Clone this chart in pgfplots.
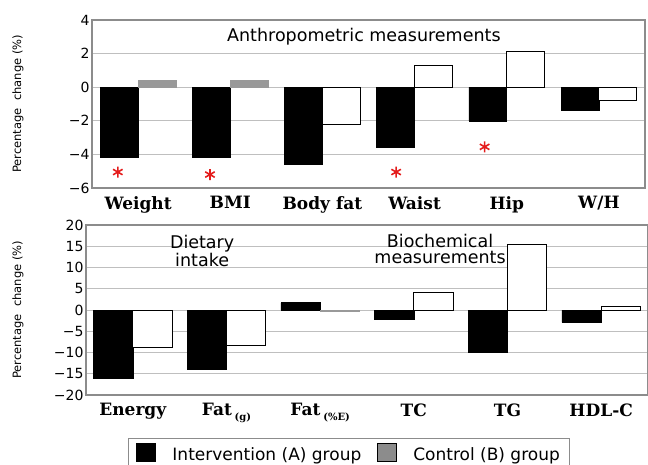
\documentclass[border=0pt]{standalone}
\usepackage{pgfplots}
\pgfplotsset{compat=1.18}
\usepackage{fontspec}
\setmainfont{DejaVu Sans}
\newfontfamily\catfont{DejaVu Serif}
\definecolor{framec}{gray}{0.55}
\definecolor{gridc}{gray}{0.75}
\definecolor{starred}{RGB}{228,28,28}
\definecolor{ctrlgray}{gray}{0.55}
\definecolor{thingray}{gray}{0.6}
\begin{document}
\begin{tikzpicture}
\path[use as bounding box] (0,0) rectangle (648pt,-464pt);
\pgfplotsset{
  myaxis/.style={
    scale only axis,
    xmin=-0.5, xmax=5.5,
    xtick={0,...,5},
    major tick length=0pt,
    ymajorgrids,
    grid style={gridc, line width=1pt},
    axis line style={framec, line width=1.2pt},
    xticklabel style={font=\catfont\bfseries\fontsize{17}{17}\selectfont, anchor=north, yshift=-5pt},
    yticklabel style={font=\fontsize{14}{14}\selectfont, xshift=1pt},
    clip=false,
  },
  bA/.style={ybar, bar width=#1, fill=black, draw=black, line width=0.6pt},
  bB/.style={ybar, bar width=#1, fill=white, draw=black, line width=1pt},
  bG/.style={ybar, bar width=#1, fill=thingray, draw=thingray, line width=0.6pt},
}
% ---------------- top panel ----------------
\begin{axis}[myaxis,
  at={(92pt,-188pt)}, anchor=south west, width=553pt, height=168pt,
  ymin=-6, ymax=4,
  ytick={-6,-4,-2,0,2,4}, yticklabels={−6,−4,−2,0,2,4},
  xticklabels={Weight,BMI,Body fat,Waist,Hip,W/H},
  ylabel={Percentage\ \ change (\%)},
  every axis y label/.style={at={(rel axis cs:0,0.5)}, xshift=-65pt, rotate=90, anchor=south, font=\fontsize{11.5}{11.5}\selectfont},
]
\addplot[bA=0.41, bar shift=-0.205] coordinates {(0,-4.2) (1,-4.2) (2,-4.6) (3,-3.6) (4,-2.0) (5,-1.4)};
\addplot[bG=0.41, bar shift=0.205] coordinates {(0,0.4) (1,0.4)};
\addplot[bB=0.41, bar shift=0.205] coordinates {(2,-2.2) (3,1.3) (4,2.1) (5,-0.8)};
\addplot[only marks, mark=asterisk, mark size=5.5pt, line width=1.6pt, starred] coordinates {(-0.22,-5.05) (0.78,-5.2) (2.8,-5.05) (3.76,-3.55)};
\node[font=\fontsize{17.5}{17.5}\selectfont] at (axis cs:2.45,3.02) {Anthropometric measurements};
\end{axis}
% ---------------- bottom panel ----------------
\begin{axis}[myaxis,
  at={(86pt,-395pt)}, anchor=south west, width=562pt, height=170pt,
  ymin=-20, ymax=20,
  ytick={-20,-15,...,20}, yticklabels={−20,−15,−10,−5,0,5,10,15,20},
  xticklabels={Energy,{Fat\,{\fontsize{10}{10}\selectfont\raisebox{-5pt}{(g)}}},{Fat\,{\fontsize{10}{10}\selectfont\raisebox{-5pt}{(\%E)}}},TC,TG,HDL-C},
  ylabel={Percentage\ \ change (\%)},
  every axis y label/.style={at={(rel axis cs:0,0.5)}, xshift=-59pt, rotate=90, anchor=south, font=\fontsize{11.5}{11.5}\selectfont},
  legend style={at={(rel axis cs:0.0747,-0.25)}, anchor=north west, draw=framec, line width=1pt,
    font=\fontsize{17}{17}\selectfont, inner xsep=8pt, inner ysep=5pt,
    /tikz/every odd column/.append style={column sep=14pt},
    /tikz/every even column/.append style={column sep=14pt}},
  legend columns=2,
  legend image code/.code={\fill[#1] (0pt,-7pt) rectangle (19pt,11pt);},
]
\addplot[bA=0.42, bar shift=-0.21, forget plot] coordinates {(0,-16.0) (1,-14.0) (2,1.7) (3,-2.1) (4,-10.0) (5,-2.9)};
\addplot[bG=0.42, bar shift=0.21, forget plot] coordinates {(2,-0.3)};
\addplot[bB=0.42, bar shift=0.21, forget plot] coordinates {(0,-8.9) (1,-8.4) (3,4.1) (4,15.3) (5,0.8)};
\node[font=\fontsize{17.5}{16.5}\selectfont, align=center] at (axis cs:0.74,13.9) {Dietary\\intake};
\node[font=\fontsize{17.5}{16.5}\selectfont, align=center] at (axis cs:3.28,14.4) {Biochemical\\measurements};
\addlegendimage{fill=black}
\addlegendentry{Intervention (A) group}
\addlegendimage{fill=ctrlgray}
\addlegendentry{Control (B) group}
\end{axis}
\end{tikzpicture}
\end{document}
